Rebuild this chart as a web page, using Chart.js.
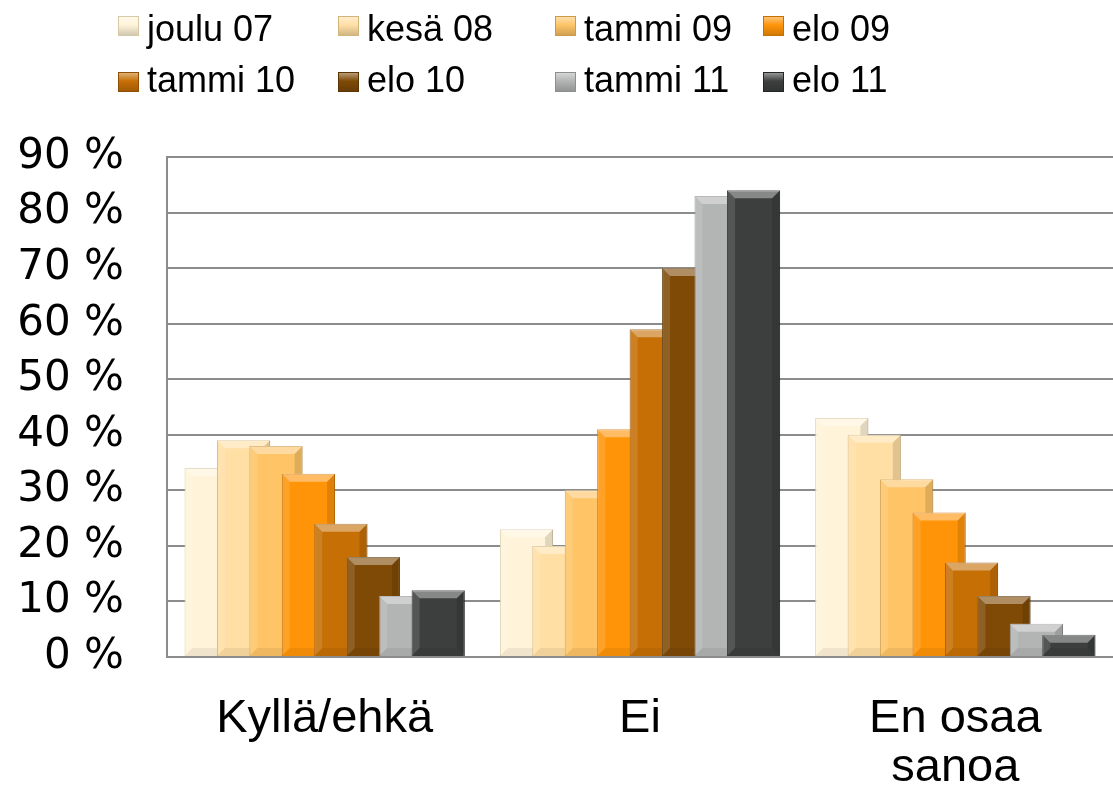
<!DOCTYPE html>
<html>
<head>
<meta charset="utf-8">
<script src="https://cdn.jsdelivr.net/npm/chart.js@4/dist/chart.umd.min.js"></script>
<style>
html,body{margin:0;padding:0;background:#fff;}
#wrap{position:relative;width:1113px;height:789px;overflow:hidden;}
#c{position:absolute;left:0;top:0;}
#legend{position:absolute;left:0;top:0;width:1113px;height:120px;}
.box{position:absolute;width:21px;height:20px;box-sizing:border-box;}
.txt{position:absolute;font-family:"Liberation Sans",Arial,sans-serif;font-size:36px;line-height:1;color:#000;white-space:nowrap;}
</style>
</head>
<body>
<div id="wrap">
<canvas id="c" width="1113" height="789"></canvas>
<div id="legend"></div>
</div>
<script>
// ---- data ----
const categories = ["Kyllä/ehkä", "Ei", ["En osaa", "sanoa"]];
const seriesNames = ["joulu 07", "kesä 08", "tammi 09", "elo 09", "tammi 10", "elo 10", "tammi 11", "elo 11"];
const joulu07 = [34, 23, 43];
const kesa08  = [39, 20, 40];
const tammi09 = [38, 30, 32];
const elo09   = [33, 41, 26];
const tammi10 = [24, 59, 17];
const elo10   = [18, 70, 11];
const tammi11 = [11, 83, 6];
const elo11   = [12, 84, 4];
const yTicks  = [0, 10, 20, 30, 40, 50, 60, 70, 80, 90];

const seriesValues = [joulu07, kesa08, tammi09, elo09, tammi10, elo10, tammi11, elo11];
const fillColors = ["#FFF4D9", "#FFDFA3", "#FEC466", "#FF9408", "#C66F05", "#7F4A06", "#B3B4B4", "#3D3F3F"];
const edgeColors = ["#D8C9A6", "#D2B37A", "#CF9A45", "#C76F00", "#8F4F02", "#5A3403", "#8D8E8E", "#242626"];

// ---- legend (HTML, built from the series arrays) ----
const legendCols = [118, 338, 555, 763];
const legendBoxTop = [16, 72];
const legendTextTop = [11, 62];
const legendEl = document.getElementById('legend');
seriesNames.forEach((name, i) => {
  const row = Math.floor(i / 4), col = i % 4;
  const b = document.createElement('div');
  b.className = 'box';
  b.style.left = legendCols[col] + 'px';
  b.style.top = legendBoxTop[row] + 'px';
  b.style.background = 'linear-gradient(180deg, rgba(255,255,255,0.45), rgba(255,255,255,0) 45%, rgba(0,0,0,0.18))';
  b.style.backgroundColor = fillColors[i];
  b.style.border = '1px solid ' + edgeColors[i];
  const t = document.createElement('span');
  t.className = 'txt';
  t.style.left = (legendCols[col] + 29) + 'px';
  t.style.top = legendTextTop[row] + 'px';
  t.textContent = name;
  legendEl.appendChild(b);
  legendEl.appendChild(t);
});

// ---- draw datasets in index order (later series on top) with bevel ----
function drawBevel(ctx, meta) {
  meta.data.forEach(el => {
    const p = el.getProps(['x', 'y', 'base', 'width'], true);
    const l = p.x - p.width / 2, r = p.x + p.width / 2, t = Math.min(p.y, p.base), btm = Math.max(p.y, p.base);
    const h = btm - t;
    const b = Math.min(8, h / 2);
    ctx.save();
    ctx.beginPath();
    ctx.moveTo(l, t); ctx.lineTo(r, t); ctx.lineTo(r - b, t + b); ctx.lineTo(l + b, t + b); ctx.closePath();
    ctx.fillStyle = 'rgba(255,255,255,0.38)'; ctx.fill();
    ctx.beginPath();
    ctx.moveTo(l, t); ctx.lineTo(l + b, t + b); ctx.lineTo(l + b, btm - b); ctx.lineTo(l, btm); ctx.closePath();
    ctx.fillStyle = 'rgba(255,255,255,0.12)'; ctx.fill();
    ctx.beginPath();
    ctx.moveTo(r, t); ctx.lineTo(r - b, t + b); ctx.lineTo(r - b, btm - b); ctx.lineTo(r, btm); ctx.closePath();
    ctx.fillStyle = 'rgba(0,0,0,0.12)'; ctx.fill();
    ctx.beginPath();
    ctx.moveTo(l, btm); ctx.lineTo(l + b, btm - b); ctx.lineTo(r - b, btm - b); ctx.lineTo(r, btm); ctx.closePath();
    ctx.fillStyle = 'rgba(0,0,0,0.06)'; ctx.fill();
    ctx.restore();
  });
}
const orderPlugin = {
  id: 'orderPlugin',
  beforeDatasetsDraw(chart) {
    const ctx = chart.ctx;
    for (let i = 0; i < chart.data.datasets.length; i++) {
      const meta = chart.getDatasetMeta(i);
      if (!meta.visible) continue;
      ctx.save();
      meta.controller.draw();
      drawBevel(ctx, meta);
      ctx.restore();
    }
    return false;
  }
};

new Chart(document.getElementById('c'), {
  type: 'bar',
  data: {
    labels: categories,
    datasets: seriesNames.map((name, i) => ({
      label: name,
      data: seriesValues[i],
      backgroundColor: fillColors[i],
      borderColor: edgeColors[i],
      borderWidth: 1,
      categoryPercentage: 0.823,
      barPercentage: 1.64
    }))
  },
  options: {
    responsive: false,
    animation: false,
    events: [],
    layout: { padding: { top: 157, left: 0, right: 0, bottom: 0 } },
    plugins: { legend: { display: false }, tooltip: { enabled: false } },
    scales: {
      x: {
        grid: { display: false, drawTicks: false },
        border: { display: false },
        ticks: {
          color: '#000',
          padding: 38,
          maxRotation: 0,
          autoSkip: false,
          font: { family: '"Liberation Sans", Arial, sans-serif', size: 47, lineHeight: 1.03 }
        },
        afterFit(scale) { scale.height = 132; }
      },
      y: {
        min: 0, max: 90,
        afterBuildTicks(scale) { scale.ticks = yTicks.map(v => ({ value: v })); },
        grid: { color: '#8c8c8c', lineWidth: 2, drawTicks: false },
        border: { display: true, color: '#8c8c8c', width: 2 },
        ticks: {
          color: '#000',
          padding: 43,
          autoSkip: false,
          font: { family: '"DejaVu Sans", sans-serif', size: 42 },
          callback: v => v + ' %'
        },
        afterFit(scale) { scale.width = 167; }
      }
    }
  },
  plugins: [orderPlugin]
});
</script>
</body>
</html>
